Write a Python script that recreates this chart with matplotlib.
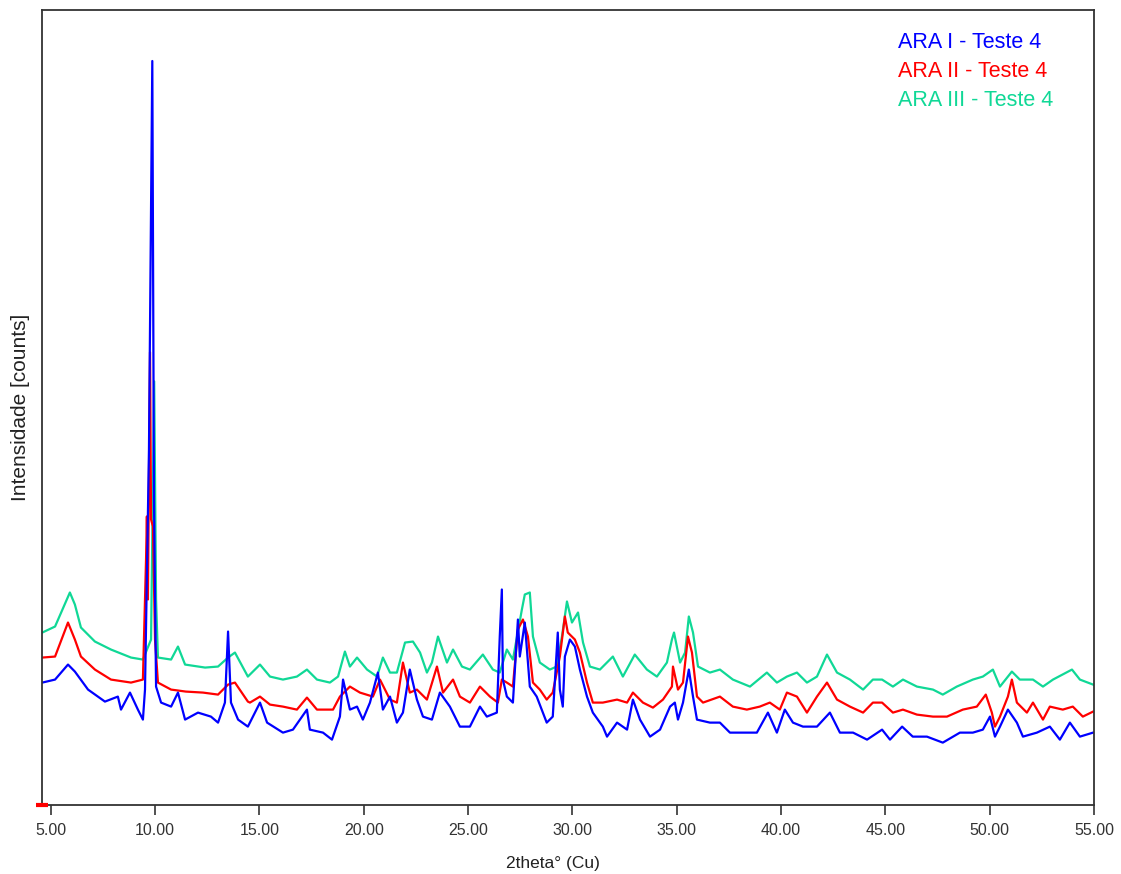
import numpy as np
import matplotlib.pyplot as plt

# values (2theta in degrees, intensity in arbitrary counts)
blue_2theta = [4.60, 5.21, 5.83, 6.16, 6.79, 7.60, 8.22, 8.37, 8.80, 9.18, 9.42, 9.52, 9.71,
               9.87, 9.95, 10.05, 10.29, 10.77, 11.10, 11.44, 12.06, 12.68, 13.02, 13.35,
               13.50, 13.64, 13.98, 14.45, 15.03, 15.37, 16.13, 16.61, 17.28, 17.42, 18.05,
               18.48, 18.86, 19.01, 19.34, 19.68, 19.96, 20.30, 20.68, 20.92, 21.26, 21.59,
               21.88, 22.21, 22.55, 22.84, 23.27, 23.65, 24.13, 24.61, 25.09, 25.57, 25.90,
               26.38, 26.52, 26.62, 26.67, 26.86, 27.15, 27.39, 27.48, 27.72, 27.96, 28.29,
               28.77, 29.06, 29.30, 29.40, 29.54, 29.64, 29.88, 30.12, 30.36, 30.70, 30.98,
               31.46, 31.66, 32.14, 32.62, 32.90, 33.24, 33.72, 34.20, 34.68, 34.91, 35.06,
               35.30, 35.58, 35.78, 35.97, 36.59, 37.07, 37.55, 38.17, 38.84, 39.37, 39.80,
               40.18, 40.57, 41.05, 41.72, 42.34, 42.82, 43.45, 44.12, 44.84, 45.22, 45.80,
               46.31, 46.99, 47.75, 48.57, 49.19, 49.67, 50.01, 50.25, 50.49, 50.87, 51.30,
               51.59, 52.26, 52.88, 53.36, 53.84, 54.32, 54.95]
blue_counts = [122, 125, 140, 133, 115, 103, 108, 95, 112, 95, 85, 115, 355,
               743, 305, 118, 102, 98, 112, 85, 92, 88, 82, 102,
               173, 102, 85, 78, 102, 82, 72, 75, 95, 75, 72,
               65, 88, 125, 95, 98, 85, 102, 132, 95, 108, 82,
               92, 135, 105, 88, 85, 112, 98, 78, 78, 98, 88,
               92, 168, 215, 125, 108, 102, 185, 148, 182, 118, 108,
               82, 88, 172, 115, 98, 148, 165, 158, 135, 108, 92,
               78, 68, 82, 75, 105, 85, 68, 75, 98, 102, 85,
               102, 135, 108, 85, 82, 82, 72, 72, 72, 92, 72,
               95, 82, 78, 78, 92, 72, 72, 65, 75, 65, 78,
               68, 68, 62, 72, 72, 75, 88, 68, 78, 95, 82,
               68, 72, 78, 65, 82, 68, 72]

red_2theta = [4.60, 5.21, 5.83, 6.16, 6.45, 7.12, 7.89, 8.85, 9.42, 9.57, 9.61, 9.66, 9.76,
              9.81, 9.90, 10.00, 10.14, 10.77, 11.48, 12.30, 13.02, 13.50, 13.83, 14.45,
              14.55, 15.03, 15.51, 16.13, 16.80, 17.28, 17.76, 18.53, 18.86, 19.34, 19.82,
              20.44, 20.78, 21.26, 21.59, 21.88, 22.21, 22.55, 23.03, 23.51, 23.80, 24.28,
              24.61, 25.09, 25.57, 26.05, 26.43, 26.62, 26.86, 27.15, 27.39, 27.63, 27.87,
              28.11, 28.44, 28.77, 29.06, 29.40, 29.64, 29.78, 30.12, 30.36, 30.70, 30.98,
              31.46, 32.14, 32.62, 32.90, 33.38, 33.86, 34.34, 34.77, 34.82, 35.06, 35.30,
              35.54, 35.73, 35.97, 36.26, 37.07, 37.69, 38.36, 38.98, 39.46, 39.94, 40.28,
              40.76, 41.24, 41.72, 42.20, 42.68, 43.30, 43.93, 44.40, 44.84, 45.36, 45.84,
              46.51, 47.28, 47.95, 48.71, 49.38, 49.81, 50.10, 50.25, 50.49, 50.87, 51.06,
              51.30, 51.78, 52.07, 52.55, 52.88, 53.50, 53.98, 54.46, 54.95]
red_counts = [147, 148, 182, 165, 148, 135, 125, 122, 125, 245, 288, 205, 452,
              285, 278, 165, 122, 115, 113, 112, 110, 120, 122, 103,
              102, 108, 100, 98, 95, 107, 95, 95, 108, 118, 112,
              108, 125, 105, 102, 142, 112, 115, 105, 138, 112, 125,
              108, 102, 118, 108, 102, 125, 122, 118, 175, 185, 168,
              122, 115, 105, 112, 148, 188, 172, 165, 152, 122, 102,
              102, 105, 102, 112, 102, 97, 105, 118, 138, 115, 122,
              168, 152, 108, 102, 108, 98, 95, 98, 102, 95, 112,
              108, 92, 108, 122, 105, 98, 92, 102, 102, 92, 95,
              90, 88, 88, 95, 98, 110, 92, 78, 88, 108, 125,
              102, 92, 102, 85, 98, 95, 98, 88, 93]

green_2theta = [4.60, 5.21, 5.92, 6.16, 6.45, 7.12, 7.89, 8.85, 9.42, 9.81, 9.96, 10.05,
                10.14, 10.77, 11.10, 11.44, 12.40, 13.02, 13.50, 13.83, 14.45, 15.03, 15.51,
                16.13, 16.80, 17.28, 17.76, 18.38, 18.77, 19.10, 19.34, 19.68, 20.16, 20.64,
                20.92, 21.26, 21.59, 21.98, 22.36, 22.70, 23.03, 23.27, 23.56, 23.99, 24.28,
                24.71, 25.09, 25.71, 26.19, 26.52, 26.86, 27.15, 27.58, 27.72, 27.96, 28.11,
                28.44, 28.92, 29.25, 29.50, 29.74, 29.98, 30.27, 30.51, 30.84, 31.32, 31.94,
                32.42, 32.99, 33.57, 34.05, 34.53, 34.77, 34.87, 35.16, 35.40, 35.58, 35.78,
                36.02, 36.59, 37.07, 37.69, 38.51, 39.32, 39.80, 40.28, 40.76, 41.24, 41.72,
                42.20, 42.68, 43.30, 43.93, 44.40, 44.84, 45.36, 45.84, 46.51, 47.28, 47.75,
                48.42, 49.19, 49.67, 50.15, 50.49, 51.06, 51.44, 52.07, 52.55, 53.03, 53.94,
                54.32, 54.95]
green_counts = [172, 178, 212, 200, 177, 163, 155, 147, 145, 165, 423, 205,
                147, 145, 158, 140, 137, 138, 147, 152, 128, 140, 128,
                125, 128, 135, 125, 122, 128, 153, 138, 147, 135, 128,
                147, 132, 132, 162, 163, 152, 132, 142, 168, 142, 155,
                138, 135, 150, 135, 132, 155, 145, 195, 210, 212, 168,
                142, 135, 138, 168, 203, 182, 192, 162, 138, 135, 148,
                128, 150, 135, 128, 142, 165, 172, 142, 152, 188, 172,
                138, 132, 135, 125, 118, 132, 122, 128, 132, 122, 128,
                150, 132, 125, 115, 125, 125, 118, 125, 118, 115, 110,
                118, 125, 128, 135, 118, 133, 125, 125, 118, 125, 135,
                125, 120]

series_labels = ["ARA I - Teste 4", "ARA II - Teste 4", "ARA III - Teste 4"]
x_ticks = [5, 10, 15, 20, 25, 30, 35, 40, 45, 50, 55]

blue = "#0000ff"
red = "#ff0000"
green = "#10d896"
axis_color = "#333333"


def main():
    plt.rcParams["font.family"] = ["Liberation Sans", "DejaVu Sans"]
    fig = plt.figure(figsize=(11.21, 8.74), dpi=100)
    ax = fig.add_axes([0.0372, 0.0793, 0.9388, 0.9093])

    ax.plot(green_2theta, green_counts, color=green, lw=1.6)
    ax.plot(red_2theta, red_counts, color=red, lw=1.6)
    ax.plot(blue_2theta, blue_counts, color=blue, lw=1.6)

    ax.set_xlim(4.57, 55.0)
    ax.set_ylim(0, 794)

    # little red start marker sitting on the axis corner
    ax.plot([4.57], [0], marker="_", color=red, markersize=8, mew=3, clip_on=False, zorder=5)

    ax.set_xticks(x_ticks)
    ax.set_xticklabels(["{:.2f}".format(t) for t in x_ticks])
    ax.set_yticks([])
    ax.tick_params(axis="x", direction="out", length=7, width=1.2, color=axis_color,
                   labelcolor=axis_color, labelsize=11.5, pad=6)

    for side in ["bottom", "top", "left", "right"]:
        ax.spines[side].set_color(axis_color)
        ax.spines[side].set_linewidth(1.3)

    ax.set_xlabel("2theta° (Cu)", fontsize=12.5, color="#222222")
    ax.xaxis.set_label_coords(0.486, -0.064)
    ax.set_ylabel("Intensidade [counts]", fontsize=15, color="#222222")
    ax.yaxis.set_label_coords(-0.011, 0.5)

    for i, (label, col) in enumerate(zip(series_labels, [blue, red, green])):
        ax.text(0.814, 0.959 - i * 0.0365, label, color=col, fontsize=15.5,
                transform=ax.transAxes, va="center", ha="left")

    fig.savefig("out.png", dpi=100)


if __name__ == "__main__":
    main()
